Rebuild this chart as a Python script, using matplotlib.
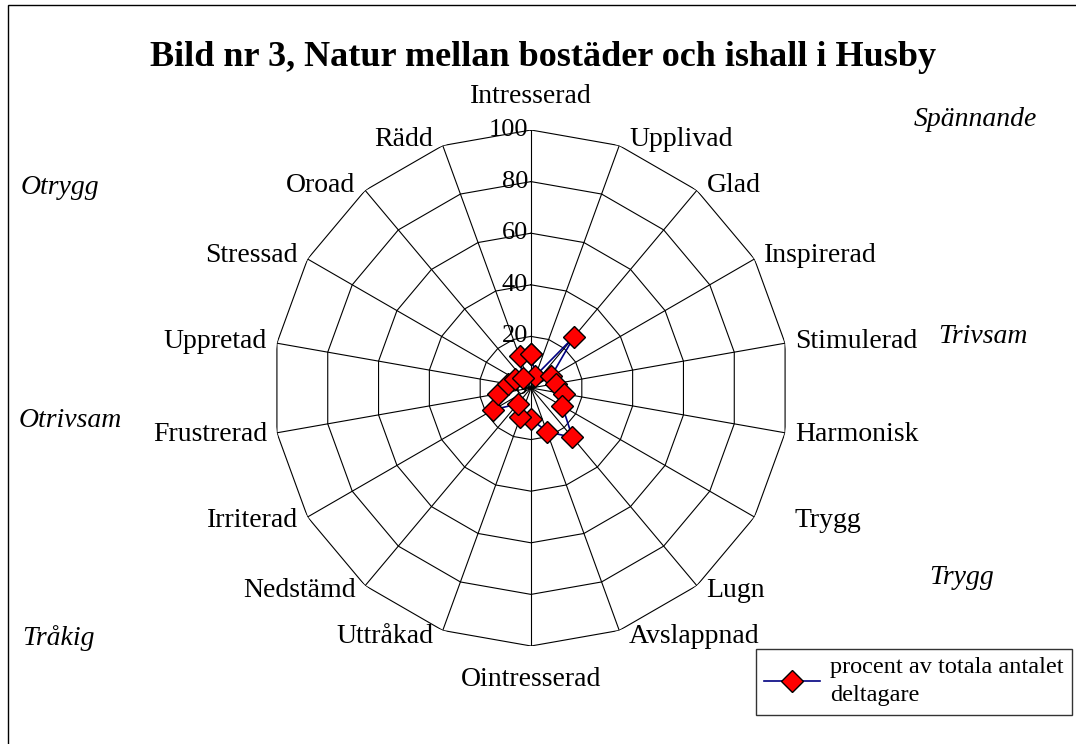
import numpy as np
import matplotlib
matplotlib.use("Agg")
import matplotlib.pyplot as plt
from matplotlib.patches import Rectangle

plt.rcParams['font.family'] = ['Liberation Serif', 'DejaVu Serif']

# emotion words, clockwise from the top
categories = ["Intresserad", "Upplivad", "Glad", "Inspirerad", "Stimulerad",
              "Harmonisk", "Trygg", "Lugn", "Avslappnad", "Ointresserad",
              "Uttråkad", "Nedstämd", "Irriterad", "Frustrerad", "Uppretad",
              "Stressad", "Oroad", "Rädd"]
# percent of all participants choosing each word
procent = [13, 5, 26, 9, 10, 13, 14, 25, 18, 12, 12, 8, 17, 13, 9, 7, 5, 13]
rings = [20, 40, 60, 80, 100]
series_name = "procent av totala antalet\ndeltagare"

# mood groups written around the chart
corner_words = ["Spännande", "Otrygg", "Trivsam", "Otrivsam", "Trygg", "Tråkig"]

W, H = 1076, 744
fig = plt.figure(figsize=(W / 100, H / 100), dpi=100)

# outer frame
fig.patches.append(Rectangle((8 / W, -0.05), 1.2, 1 - 5 / H + 0.05,
                             transform=fig.transFigure, fill=False,
                             edgecolor="black", linewidth=1.0))

cx, cy, R = 531, 388, 258
ax = fig.add_axes([(cx - R) / W, (H - cy - R) / H, 2 * R / W, 2 * R / H],
                  projection="polar")
ax.set_theta_zero_location("N")
ax.set_theta_direction(-1)
ax.set_ylim(0, 100)
ax.grid(False)
ax.spines["polar"].set_visible(False)
ax.set_xticks([])
ax.set_yticks([])
ax.patch.set_alpha(0)

n = len(categories)
angles = np.arange(n) * 2 * np.pi / n
closed = np.append(angles, angles[0])

# spokes and polygon rings
for a in angles:
    ax.plot([a, a], [0, 100], color="black", lw=0.8, zorder=1)
for r in rings:
    ax.plot(closed, [r] * (n + 1), color="black", lw=0.8, zorder=1)

# ring values along the top spoke
for r in [0] + rings:
    ax.annotate(str(r), xy=(0, r), xytext=(-2, 0), textcoords="offset points",
                ha="right", va="center", fontsize=19, zorder=2)

# category labels around the outside
for a, name in zip(angles, categories):
    s, c = np.sin(a), np.cos(a)
    if abs(s) < 1e-6:
        ha = "center"
        dx, dy = 0, 24 if c > 0 else -24
    else:
        ha = "left" if s > 0 else "right"
        dx, dy = 7 * np.sign(s), 5 * c
        if name == "Trygg":
            dx += 22
    ax.annotate(name, xy=(a, 100), xytext=(dx, dy), textcoords="offset points",
                ha=ha, va="center", fontsize=20, annotation_clip=False)

vals = np.append(procent, procent[0])
line, = ax.plot(closed, vals, color="#000080", lw=1.2, marker="D",
                markersize=11, markerfacecolor="#ff0000",
                markeredgecolor="black", markeredgewidth=1.0, zorder=5,
                clip_on=False, label=series_name)

fig.text(543 / W, 1 - 57 / H, "Bild nr 3, Natur mellan bostäder och ishall i Husby",
         ha="center", va="center", fontsize=26, fontweight="bold")

corner_pos = [(975, 120), (60, 188), (983, 337), (70, 420), (962, 577), (58, 638)]
for word, (x, y) in zip(corner_words, corner_pos):
    fig.text(x / W, 1 - y / H, word, ha="center", va="center",
             fontsize=20, style="italic")

leg = fig.legend(handles=[line], loc="lower right",
                 bbox_to_anchor=(1072 / W, 1 - 715 / H),
                 fontsize=17.5, frameon=True, fancybox=False, handlelength=2.3,
                 handletextpad=0.4, borderpad=0.35, borderaxespad=0)
leg.get_frame().set_edgecolor("black")
leg.get_frame().set_linewidth(1.0)
for t in leg.get_texts():
    t.set_linespacing(1.45)

fig.savefig("out.png", dpi=100)
